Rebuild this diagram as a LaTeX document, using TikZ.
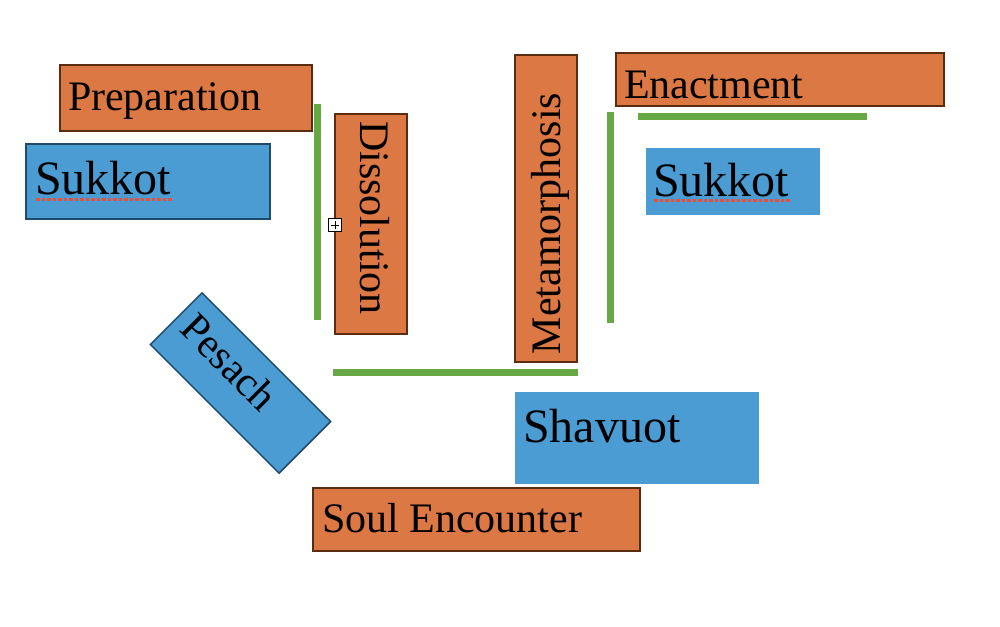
\documentclass[tikz,border=0pt]{standalone}
\usepackage{fontspec}
\setmainfont{Liberation Serif}
\definecolor{orfill}{HTML}{DC7843}
\definecolor{ordraw}{HTML}{5A2C10}
\definecolor{blfill}{HTML}{4A9CD2}
\definecolor{bldraw}{HTML}{1F4B6B}
\definecolor{grn}{HTML}{67A844}
\definecolor{spell}{HTML}{E8503A}
\begin{document}
\begin{tikzpicture}[x=1pt,y=-1pt,
  obox/.style={draw=ordraw,fill=orfill,line width=1.5pt,inner sep=0,outer sep=0,anchor=north west},
  bbox/.style={draw=bldraw,fill=blfill,line width=1.5pt,inner sep=0,outer sep=0,anchor=north west},
  bplain/.style={fill=blfill,inner sep=0,outer sep=0,anchor=north west},
  lbl/.style={inner sep=0,outer sep=0,anchor=base west,font=\fontsize{42}{50}\selectfont},
  biglbl/.style={inner sep=0,outer sep=0,anchor=base west,font=\fontsize{48}{56}\selectfont},
  gline/.style={draw=grn,line width=7pt},
  squig/.style={draw=spell,line width=3pt,dash pattern=on 3.5pt off 2pt}]
\useasboundingbox (0,0) rectangle (1000,626);
% boxes
\node[obox,minimum width=252pt,minimum height=66pt] (prepbox) at (60,65) {};
\node[bbox,minimum width=244pt,minimum height=75pt] (sukLbox) at (26,144) {};
\node[obox,minimum width=72pt,minimum height=220pt] (dissbox) at (335,114) {};
\node[obox,minimum width=62pt,minimum height=307pt] (metabox) at (515,55) {};
\node[obox,minimum width=328pt,minimum height=53pt] (enacbox) at (616,53) {};
\node[bplain,minimum width=174pt,minimum height=67pt] (sukRbox) at (646,148) {};
\node[bplain,minimum width=244pt,minimum height=92pt] (shavbox) at (515,392) {};
\node[obox,minimum width=327pt,minimum height=63pt] (soulbox) at (313,488) {};
\node[draw=bldraw,fill=blfill,line width=1.5pt,inner sep=0,outer sep=0,
      minimum width=182pt,minimum height=73pt,rotate=-45] (pesbox) at (240.5,383) {};
% texts
\node[lbl] (prep) at (68,110) {Preparation};
\node[biglbl] (sukL) at (35,194) {Sukkot};
\node[lbl,rotate=-90] (diss) at (360,121) {Dissolution};
\node[lbl,rotate=90] (meta) at (560,354) {Metamorphosis};
\node[lbl] (enac) at (624,98) {Enactment};
\node[biglbl] (sukR) at (653,196) {Sukkot};
\node[biglbl] (shav) at (523,442) {Shavuot};
\node[lbl] (soul) at (322,532) {Soul Encounter};
\node[inner sep=0,outer sep=0,rotate=-45,font=\fontsize{42}{50}\selectfont] (pes) at (229.5,362) {Pesach};
% spelling underlines
\coordinate (uLa) at (36,199); \coordinate (uLb) at (173,199);
\coordinate (uRa) at (654,200.5); \coordinate (uRb) at (791,200.5);
\draw[squig] (uLa) -- (uLb);
\draw[squig] (uRa) -- (uRb);
% green bars
\coordinate (g1a) at (317,104); \coordinate (g1b) at (317,320);
\coordinate (g2a) at (610,112); \coordinate (g2b) at (610,323);
\coordinate (g3a) at (333,372.5); \coordinate (g3b) at (578,372.5);
\coordinate (g4a) at (638,116); \coordinate (g4b) at (867,116);
\draw[gline] (g1a) -- (g1b);
\draw[gline] (g2a) -- (g2b);
\draw[gline] (g3a) -- (g3b);
\draw[gline] (g4a) -- (g4b);
% small expand icon
\node[draw=black,fill=white,line width=0.9pt,minimum size=13pt,inner sep=0] (icon) at (335,225) {};
\draw[line width=0.9pt] ([xshift=-4pt]icon.center) -- ([xshift=4pt]icon.center);
\draw[line width=0.9pt] ([yshift=-4pt]icon.center) -- ([yshift=4pt]icon.center);
\end{tikzpicture}
\end{document}
